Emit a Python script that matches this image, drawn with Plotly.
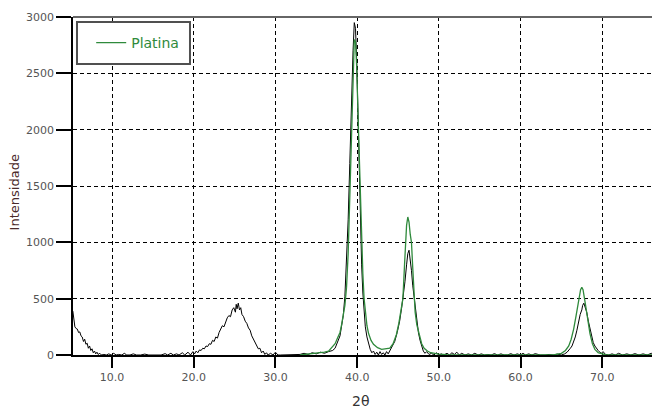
import plotly.graph_objects as go

# Experimental pattern (black)
exp_x = [5.2, 5.3, 5.45, 5.6, 5.75, 5.9, 6.05, 6.2, 6.35, 6.5, 6.65, 6.8, 6.95, 7.1, 7.25, 7.4, 7.55, 7.7, 7.85, 8.0,
         8.15, 8.3, 8.5, 8.7, 9.0, 9.3, 9.6, 9.9, 10.2, 10.5, 10.8, 11.2, 11.5, 11.8, 12.2, 12.6, 13.0, 13.5, 14.0, 14.5,
         15.0, 15.5, 16.0, 16.5, 16.8, 17.2, 17.5, 17.9, 18.2, 18.6, 18.9, 19.3, 19.6, 19.9, 20.1, 20.3, 20.5, 20.7, 20.9, 21.1,
         21.3, 21.5, 21.7, 21.9, 22.1, 22.3, 22.5, 22.7, 22.9, 23.1, 23.3, 23.5, 23.7, 23.9, 24.1, 24.3, 24.5, 24.7, 24.9, 25.1,
         25.2, 25.3, 25.45, 25.6, 25.75, 25.9, 26.1, 26.3, 26.5, 26.7, 26.9, 27.1, 27.3, 27.5, 27.7, 27.9, 28.1, 28.3, 28.5, 28.7,
         28.9, 29.1, 29.4, 29.7, 30.0, 30.3, 30.6, 31.0, 31.5, 32.0, 32.5, 33.0, 33.5, 34.0, 34.5, 35.0, 35.5, 36.0, 36.5, 37.0,
         37.3, 37.6, 37.9, 38.1, 38.3, 38.5, 38.7, 38.9, 39.1, 39.3, 39.5, 39.65, 39.8, 39.95, 40.1, 40.25, 40.4, 40.55, 40.7, 40.85,
         41.0, 41.2, 41.4, 41.6, 41.8, 42.0, 42.2, 42.4, 42.6, 42.8, 43.0, 43.2, 43.4, 43.6, 43.8, 44.0, 44.3, 44.6, 44.9, 45.2,
         45.45, 45.65, 45.85, 46.05, 46.2, 46.35, 46.5, 46.65, 46.8, 46.95, 47.1, 47.3, 47.5, 47.7, 47.9, 48.1, 48.3, 48.5, 48.8, 49.1,
         49.4, 49.7, 50.0, 50.3, 50.6, 51.0, 51.3, 51.6, 51.9, 52.2, 52.5, 52.8, 53.2, 53.6, 54.0, 54.4, 54.8, 55.2, 55.6, 56.0,
         56.4, 56.8, 57.2, 57.6, 58.0, 58.4, 58.8, 59.2, 59.6, 60.0, 60.3, 60.6, 61.0, 61.4, 61.8, 62.4, 63.0, 63.5, 64.0, 64.5,
         65.0, 65.4, 65.7, 65.9, 66.1, 66.3, 66.5, 66.7, 66.9, 67.1, 67.3, 67.5, 67.6, 67.75, 67.9, 68.1, 68.3, 68.5, 68.7, 68.9,
         69.1, 69.3, 69.5, 69.7, 69.9, 70.1, 70.4, 70.8, 71.2, 71.6, 72.0, 72.5, 73.0, 73.5, 74.0, 74.5, 75.0, 75.5, 76.0, 76.5,
         77.0]
exp_y = [390, 330, 250, 235, 230, 200, 205, 170, 160, 120, 140, 95, 105, 60, 80, 40, 55, 20, 35, 10,
         25, 5, 15, 0, 5, 0, 10, 0, 15, 0, 5, 0, 15, 0, 0, 10, 0, 0, 8, 0,
         0, 5, 0, 12, 0, 15, 0, 10, 0, 20, 0, 25, 0, 30, 10, 35, 20, 45, 40, 60,
         55, 80, 75, 100, 95, 130, 120, 160, 150, 200, 230, 260, 250, 300, 330, 350, 340, 400, 420, 380,
         450, 410, 460, 400, 420, 360, 340, 300, 280, 240, 220, 170, 140, 110, 90, 55, 60, 20, 35, 5,
         20, 0, 15, 0, 25, 0, 0, 0, 0, 0, 0, 5, 15, 5, 20, 10, 25, 15, 30, 40,
         60, 120, 170, 260, 350, 520, 800, 1200, 1700, 2300, 2700, 2950, 2900, 2600, 2100, 1600, 1150, 800, 550, 380,
         250, 160, 90, 50, 20, 35, 5, 25, 0, 30, 5, 20, 0, 30, 10, 40, 70, 120, 200, 300,
         420, 520, 650, 800, 900, 930, 850, 750, 620, 520, 420, 300, 200, 130, 70, 35, 15, 30, 5, 15,
         0, 20, 0, 10, 0, 15, 0, 20, 5, 25, 0, 15, 0, 10, 0, 15, 0, 10, 0, 5,
         0, 12, 0, 10, 0, 0, 12, 0, 10, 0, 15, 0, 10, 0, 12, 0, 0, 5, 0, 8,
         0, 10, 25, 40, 60, 80, 120, 160, 220, 300, 360, 400, 440, 460, 430, 380, 300, 230, 160, 110,
         80, 55, 40, 25, 15, 30, 5, 0, 10, 0, 15, 0, 10, 0, 12, 0, 10, 0, 15, 0,
         5, 0]

# Fitted Platina pattern (green)
pt_x = [33.0, 34.0, 35.0, 36.0, 36.5, 37.0, 37.3, 37.6, 37.9, 38.1, 38.3, 38.5, 38.7, 38.9, 39.1, 39.3, 39.5, 39.65, 39.8, 39.95,
        40.1, 40.25, 40.4, 40.55, 40.7, 40.85, 41.0, 41.2, 41.4, 41.7, 42.0, 42.5, 43.0, 43.5, 44.0, 44.4, 44.8, 45.1, 45.4, 45.6,
        45.8, 45.9, 46.05, 46.2, 46.35, 46.5, 46.65, 46.8, 46.95, 47.1, 47.3, 47.6, 47.9, 48.2, 48.6, 49.0, 49.5, 50.0, 51.0, 52.0,
        64.0, 64.5, 65.0, 65.5, 65.9, 66.2, 66.5, 66.8, 67.1, 67.35, 67.5, 67.65, 67.9, 68.2, 68.5, 68.8, 69.1, 69.5, 70.0, 70.5,
        77.0]
pt_y = [0, 8, 15, 25, 35, 70, 100, 150, 200, 270, 350, 440, 600, 900, 1400, 2000, 2550, 2800, 2780, 2550,
        2150, 1750, 1350, 950, 720, 500, 370, 260, 190, 130, 95, 65, 50, 55, 60, 100, 180, 280, 400, 500,
        800, 1000, 1150, 1225, 1180, 1070, 1000, 780, 500, 380, 270, 170, 100, 60, 35, 20, 12, 8, 3, 0,
        0, 5, 15, 40, 80, 140, 230, 350, 480, 580, 600, 580, 470, 320, 190, 100, 50, 20, 8, 0,
        0]

x_ticks = [10, 20, 30, 40, 50, 60, 70]
x_tick_labels = ["10.0", "20.0", "30.0", "40.0", "50.0", "60.0", "70.0"]
y_ticks = [0, 500, 1000, 1500, 2000, 2500, 3000]
y_tick_labels = ["0", "500", "1000", "1500", "2000", "2500", "3000"]

GREEN = "#2f8a3c"
FONT = "DejaVu Sans"

fig = go.Figure()
fig.add_trace(go.Scatter(x=exp_x, y=exp_y, mode="lines", line=dict(color="black", width=1),
                         showlegend=False, name="exp"))
fig.add_trace(go.Scatter(x=pt_x, y=pt_y, mode="lines", line=dict(color=GREEN, width=1.3),
                         name="Platina"))

# page body has an 8px margin, so the figure is sized/offset to land on the 660x410 window
fig.update_layout(
    width=652, height=402,
    margin=dict(l=65, r=0, t=9, b=55, autoexpand=False),
    paper_bgcolor="white", plot_bgcolor="white",
    font=dict(family=FONT, size=11, color="#555555"),
    xaxis=dict(range=[5.22, 77.07], tickvals=x_ticks, ticktext=x_tick_labels,
               showline=True, linecolor="black", linewidth=1.5,
               ticks="outside", ticklen=11, tickcolor="black", tickwidth=1.5,
               showgrid=True, gridcolor="black", gridwidth=1, griddash="4px,3px",
               zeroline=False, automargin=False),
    yaxis=dict(range=[0, 3000], tickvals=y_ticks, ticktext=y_tick_labels,
               showline=True, linecolor="black", linewidth=1.5,
               ticks="outside", ticklen=15, tickcolor="black", tickwidth=1.5,
               showgrid=True, gridcolor="black", gridwidth=1, griddash="4px,3px",
               zeroline=False, automargin=False),
    legend=dict(x=0.031, y=0.923, xanchor="left", yanchor="middle",
                bgcolor="rgba(0,0,0,0)", borderwidth=0,
                font=dict(family=FONT, size=14, color=GREEN),
                itemwidth=30),
    shapes=[
        dict(type="line", xref="paper", yref="paper", x0=0, x1=1, y0=1, y1=1,
             line=dict(color="#666666", width=2)),
        dict(type="rect", xref="paper", yref="paper", x0=0.0068, x1=0.1993, y0=0.861, y1=0.985,
             line=dict(color="#505050", width=2), fillcolor="white", layer="above"),
    ],
    annotations=[
        dict(text="2θ", xref="paper", yref="paper", x=0.49, y=-0.136, showarrow=False,
             xanchor="center", yanchor="middle", font=dict(family=FONT, size=14, color="#333333")),
        dict(text="Intensidade", xref="paper", yref="paper", x=-0.1, y=0.482, showarrow=False,
             textangle=-90, xanchor="center", yanchor="middle",
             font=dict(family=FONT, size=13, color="#4a2a2a")),
    ],
)

fig.write_html("out.html")
